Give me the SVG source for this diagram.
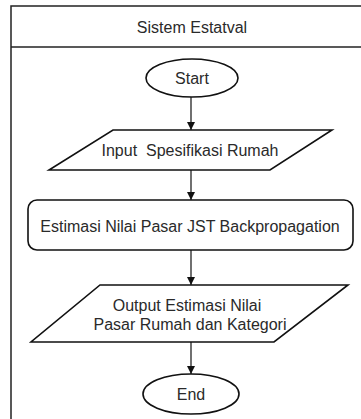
<svg xmlns="http://www.w3.org/2000/svg" width="361" height="419" viewBox="0 0 361 419">
<defs>
<style>
.frame{fill:#fff;stroke:#222;stroke-width:1.5}
.shape{fill:#fff;stroke:#111;stroke-width:1.6}
.lbl{font-family:"Liberation Sans",Arial,sans-serif;font-size:16px;fill:#2a2a2a;text-anchor:middle}
.edge{stroke:#111;stroke-width:1.2;fill:none}
</style>
<marker id="arr" viewBox="0 0 10 10" refX="10" refY="5" markerWidth="8" markerHeight="8" markerUnits="userSpaceOnUse" orient="auto">
<path d="M0,0 L10,5 L0,10 z" fill="#111"/>
</marker>
</defs>
<rect width="361" height="419" fill="#fff"/>
<g id="pool">
<rect class="frame" x="11" y="6" width="370" height="430"/>
<line x1="11" y1="47" x2="361" y2="47" stroke="#222" stroke-width="1.5"/>
<text class="lbl" x="192" y="33">Sistem Estatval</text>
</g>
<g id="start">
<ellipse class="shape" cx="192" cy="78" rx="46" ry="19"/>
<text class="lbl" x="192" y="84">Start</text>
</g>
<g id="input">
<polygon class="shape" points="113,130 332,130 270,170 49,170"/>
<text class="lbl" x="190" y="156" xml:space="preserve">Input  Spesifikasi Rumah</text>
</g>
<g id="process">
<rect class="shape" x="28" y="200" width="325" height="50" rx="9"/>
<text class="lbl" x="190" y="232">Estimasi Nilai Pasar JST Backpropagation</text>
</g>
<g id="output">
<polygon class="shape" points="100,285 348,285 274,342 31,342"/>
<text class="lbl" x="187" y="311">Output Estimasi Nilai</text>
<text class="lbl" x="190" y="330">Pasar Rumah dan Kategori</text>
</g>
<g id="end">
<ellipse class="shape" cx="191" cy="394" rx="48" ry="20"/>
<text class="lbl" x="191" y="400">End</text>
</g>
<g id="connectors">
<line class="edge" x1="191" y1="97" x2="191" y2="130" marker-end="url(#arr)"/>
<line class="edge" x1="191" y1="170" x2="191" y2="200" marker-end="url(#arr)"/>
<line class="edge" x1="191" y1="250" x2="191" y2="285" marker-end="url(#arr)"/>
<line class="edge" x1="191" y1="342" x2="191" y2="374" marker-end="url(#arr)"/>
</g>
</svg>
